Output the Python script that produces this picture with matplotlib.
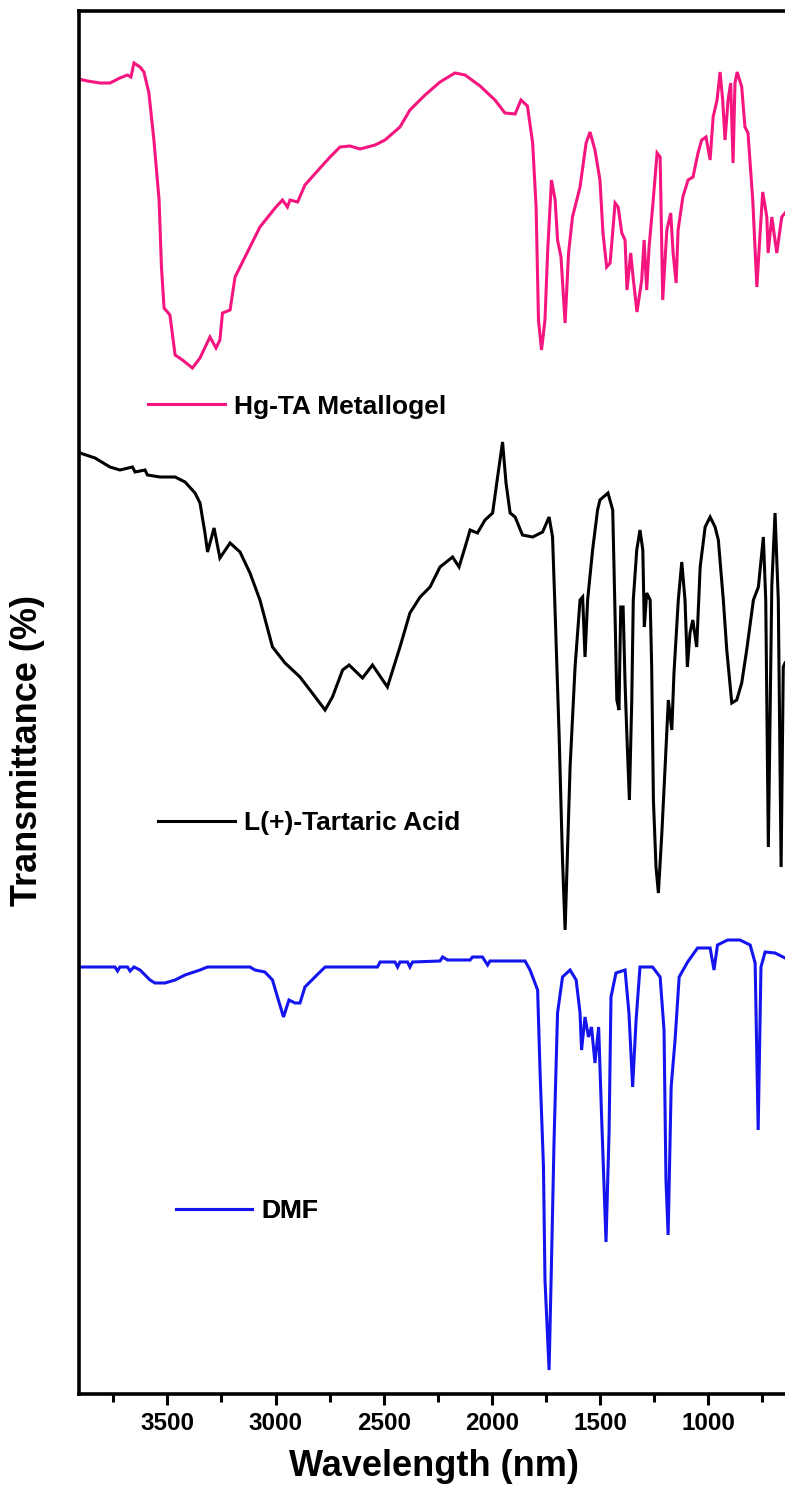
import matplotlib
matplotlib.use('Agg')
import matplotlib.pyplot as plt
from matplotlib.ticker import MultipleLocator

plt.rcParams['font.family'] = ['Liberation Sans', 'DejaVu Sans']
plt.rcParams['font.weight'] = 'bold'

# wavenumber (x) and offset transmittance (arb.)
hg_wn = [3910, 3869, 3811, 3765, 3719, 3684, 3668, 3654, 3626, 3608, 3585, 3562, 3538, 3527, 3515,
         3488, 3464, 3430, 3384, 3349, 3303, 3275, 3257, 3245, 3210, 3187, 3141, 3072, 3002, 2968,
         2945, 2933, 2898, 2864, 2794, 2748, 2702, 2656, 2610, 2540, 2494, 2425, 2379, 2309, 2240,
         2171, 2124, 2055, 1986, 1940, 1893, 1866, 1836, 1812, 1796, 1785, 1771, 1755, 1743, 1725,
         1708, 1697, 1681, 1662, 1646, 1628, 1593, 1565, 1547, 1524, 1501, 1487, 1470, 1454, 1431,
         1417, 1400, 1385, 1376, 1359, 1348, 1330, 1308, 1297, 1285, 1274, 1256, 1237, 1223, 1211,
         1192, 1174, 1163, 1149, 1140, 1118, 1094, 1071, 1048, 1031, 1011, 992, 978, 960, 946,
         934, 923, 909, 897, 886, 877, 867, 846, 831, 817, 795, 776, 761, 749, 730,
         724, 707, 684, 661, 646]
hg_t = [131.5, 131.3, 131.1, 131.1, 131.6, 131.9, 131.7, 133.1, 132.7, 132.2, 130.1, 125.4, 119.4, 112.7, 108.6,
        107.9, 103.9, 103.4, 102.6, 103.6, 105.7, 104.6, 105.4, 108.1, 108.4, 111.7, 113.7, 116.7, 118.6, 119.4,
        118.7, 119.4, 119.2, 120.9, 122.6, 123.7, 124.7, 124.8, 124.5, 124.9, 125.4, 126.7, 128.4, 129.9, 131.2,
        132.1, 131.9, 130.8, 129.4, 128.1, 128.0, 129.4, 128.8, 125.1, 118.7, 107.4, 104.4, 107.4, 114.1, 121.4,
        119.4, 115.4, 113.7, 107.1, 114.1, 117.7, 120.7, 125.1, 126.2, 124.4, 121.4, 116.1, 112.7, 113.1, 119.1,
        118.7, 116.1, 115.4, 110.4, 114.1, 111.7, 108.2, 111.4, 115.4, 110.4, 114.7, 119.1, 124.1, 123.7, 109.4,
        116.4, 118.1, 114.1, 111.1, 116.4, 119.7, 121.4, 121.7, 124.1, 125.4, 125.7, 123.4, 127.7, 129.4, 132.2,
        129.4, 125.4, 129.4, 131.1, 123.1, 131.1, 132.2, 130.7, 126.7, 126.1, 119.4, 110.7, 116.1, 120.2, 117.7,
        114.1, 117.7, 114.1, 117.7, 118.1]

ta_wn = [3903, 3834, 3765, 3719, 3661, 3649, 3603, 3592, 3534, 3464, 3418, 3372, 3349, 3326, 3314,
         3284, 3257, 3210, 3164, 3118, 3072, 3014, 2956, 2887, 2841, 2771, 2737, 2690, 2660, 2598,
         2552, 2483, 2425, 2379, 2332, 2286, 2240, 2182, 2152, 2124, 2101, 2067, 2032, 1997, 1974,
         1951, 1935, 1916, 1893, 1859, 1812, 1766, 1736, 1720, 1708, 1690, 1674, 1662, 1639, 1616,
         1593, 1581, 1570, 1558, 1535, 1512, 1501, 1464, 1442, 1431, 1423, 1413, 1405, 1394, 1385,
         1377, 1365, 1354, 1347, 1331, 1316, 1303, 1296, 1285, 1269, 1262, 1254, 1242, 1231, 1215,
         1200, 1185, 1169, 1159, 1139, 1123, 1108, 1097, 1085, 1072, 1054, 1038, 1015, 992, 969,
         954, 931, 915, 892, 869, 846, 823, 792, 769, 746, 735, 723, 707, 692, 677,
         664, 654, 646]
ta_t = [94.1, 93.6, 92.7, 92.4, 92.7, 92.2, 92.4, 91.9, 91.7, 91.7, 91.2, 90.1, 89.1, 86.1, 84.2,
        86.6, 83.6, 85.1, 84.2, 82.1, 79.4, 74.7, 73.1, 71.7, 70.4, 68.4, 69.7, 72.4, 72.9, 71.6,
        72.9, 70.7, 74.7, 78.1, 79.7, 80.7, 82.7, 83.7, 82.7, 84.7, 86.4, 86.1, 87.4, 88.1, 91.7,
        95.2, 91.1, 88.1, 87.7, 85.9, 85.7, 86.2, 87.7, 85.7, 78.1, 66.1, 53.4, 46.4, 62.7, 72.7,
        79.4, 79.7, 73.7, 79.4, 84.4, 88.4, 89.4, 90.1, 88.4, 77.7, 69.4, 68.4, 78.7, 78.7, 71.1,
        66.1, 59.4, 69.4, 79.4, 84.4, 86.4, 84.4, 76.7, 80.1, 79.4, 72.7, 59.4, 52.7, 50.1, 56.1,
        62.7, 69.4, 66.4, 72.1, 79.4, 83.2, 79.4, 72.7, 76.1, 77.4, 74.7, 82.7, 86.7, 87.7, 86.7,
        85.4, 79.4, 74.4, 69.1, 69.4, 71.1, 74.4, 79.4, 80.7, 85.7, 79.4, 54.7, 80.8, 88.1, 79.4,
        52.7, 72.7, 73.1]

dmf_wn = [3903, 3742, 3730, 3719, 3684, 3672, 3654, 3626, 3580, 3557, 3511, 3464, 3418, 3349, 3314,
          3118, 3095, 3049, 3014, 2991, 2963, 2938, 2910, 2887, 2864, 2818, 2771, 2529, 2517, 2448,
          2436, 2425, 2390, 2379, 2367, 2240, 2228, 2205, 2101, 2090, 2044, 2020, 2009, 1847, 1824,
          1789, 1778, 1762, 1755, 1736, 1725, 1713, 1697, 1674, 1639, 1611, 1593, 1586, 1570, 1554,
          1540, 1524, 1507, 1494, 1473, 1459, 1450, 1427, 1385, 1367, 1350, 1334, 1316, 1258, 1223,
          1205, 1196, 1186, 1172, 1154, 1135, 1096, 1050, 992, 974, 958, 911, 854, 807, 784,
          770, 757, 738, 692, 646]
dmf_t = [42.7, 42.7, 42.3, 42.7, 42.7, 42.3, 42.7, 42.4, 41.4, 41.1, 41.1, 41.4, 41.9, 42.4, 42.7,
         42.7, 42.4, 42.2, 41.4, 39.7, 37.7, 39.4, 39.1, 39.1, 40.7, 41.7, 42.7, 42.7, 43.2, 43.2,
         42.7, 43.2, 43.2, 42.7, 43.2, 43.3, 43.7, 43.4, 43.4, 43.7, 43.7, 42.9, 43.3, 43.3, 42.4,
         40.4, 32.4, 22.7, 11.4, 2.4, 13.1, 25.4, 38.1, 41.7, 42.4, 41.4, 38.1, 34.4, 37.7, 35.7,
         36.7, 33.1, 36.7, 28.1, 15.2, 26.1, 39.7, 42.1, 42.4, 38.1, 30.7, 37.4, 42.7, 42.7, 41.7,
         36.4, 21.4, 15.9, 30.7, 35.4, 41.7, 43.2, 44.6, 44.6, 42.4, 44.9, 45.4, 45.4, 44.9, 43.1,
         26.4, 42.7, 44.2, 44.1, 43.6]

labels = ['Hg-TA Metallogel', 'L(+)-Tartaric Acid', 'DMF']
colors = ['#F5157F', 'black', '#1414EE']
legend_pos = [(0.098, 0.714), (0.112, 0.413), (0.137, 0.132)]

fig = plt.figure(figsize=(7.85, 15.0), dpi=100)
ax = fig.add_axes([79 / 785, 106 / 1500, 706 / 785, 1383 / 1500])

series = [(hg_wn, hg_t), (ta_wn, ta_t), (dmf_wn, dmf_t)]
lines = []
for (wn, t), c in zip(series, colors):
    ln, = ax.plot(wn, t, color=c, lw=2.2, solid_joinstyle='miter')
    lines.append(ln)

for ln, lab, pos in zip(lines, labels, legend_pos):
    leg = ax.legend([ln], [lab], loc='center left', bbox_to_anchor=pos, frameon=False,
                    handlelength=2.9, handletextpad=0.35, borderpad=0, borderaxespad=0,
                    prop={'size': 19, 'weight': 'bold'})
    ax.add_artist(leg)

ax.set_xlim(3908, 646)
ax.set_ylim(0, 138.3)
ax.xaxis.set_major_locator(MultipleLocator(500))
ax.xaxis.set_minor_locator(MultipleLocator(250))
ax.set_yticks([])
ax.tick_params(axis='x', which='major', direction='out', length=8, width=2.2,
               labelsize=17.5, pad=5)
ax.tick_params(axis='x', which='minor', direction='out', length=5.5, width=2.2)
for lab in ax.get_xticklabels():
    lab.set_fontweight('bold')

for side in ['left', 'top', 'bottom']:
    ax.spines[side].set_linewidth(2.6)
ax.spines['right'].set_visible(False)

ax.set_xlabel('Wavelength (nm)', fontsize=26, fontweight='bold')
ax.xaxis.set_label_coords(0.503, -0.040)
fig.text(28 / 785, 1 - 750 / 1500, 'Transmittance (%)', rotation=90, fontsize=26,
         fontweight='bold', ha='center', va='center')

fig.savefig('out.png', dpi=100)
